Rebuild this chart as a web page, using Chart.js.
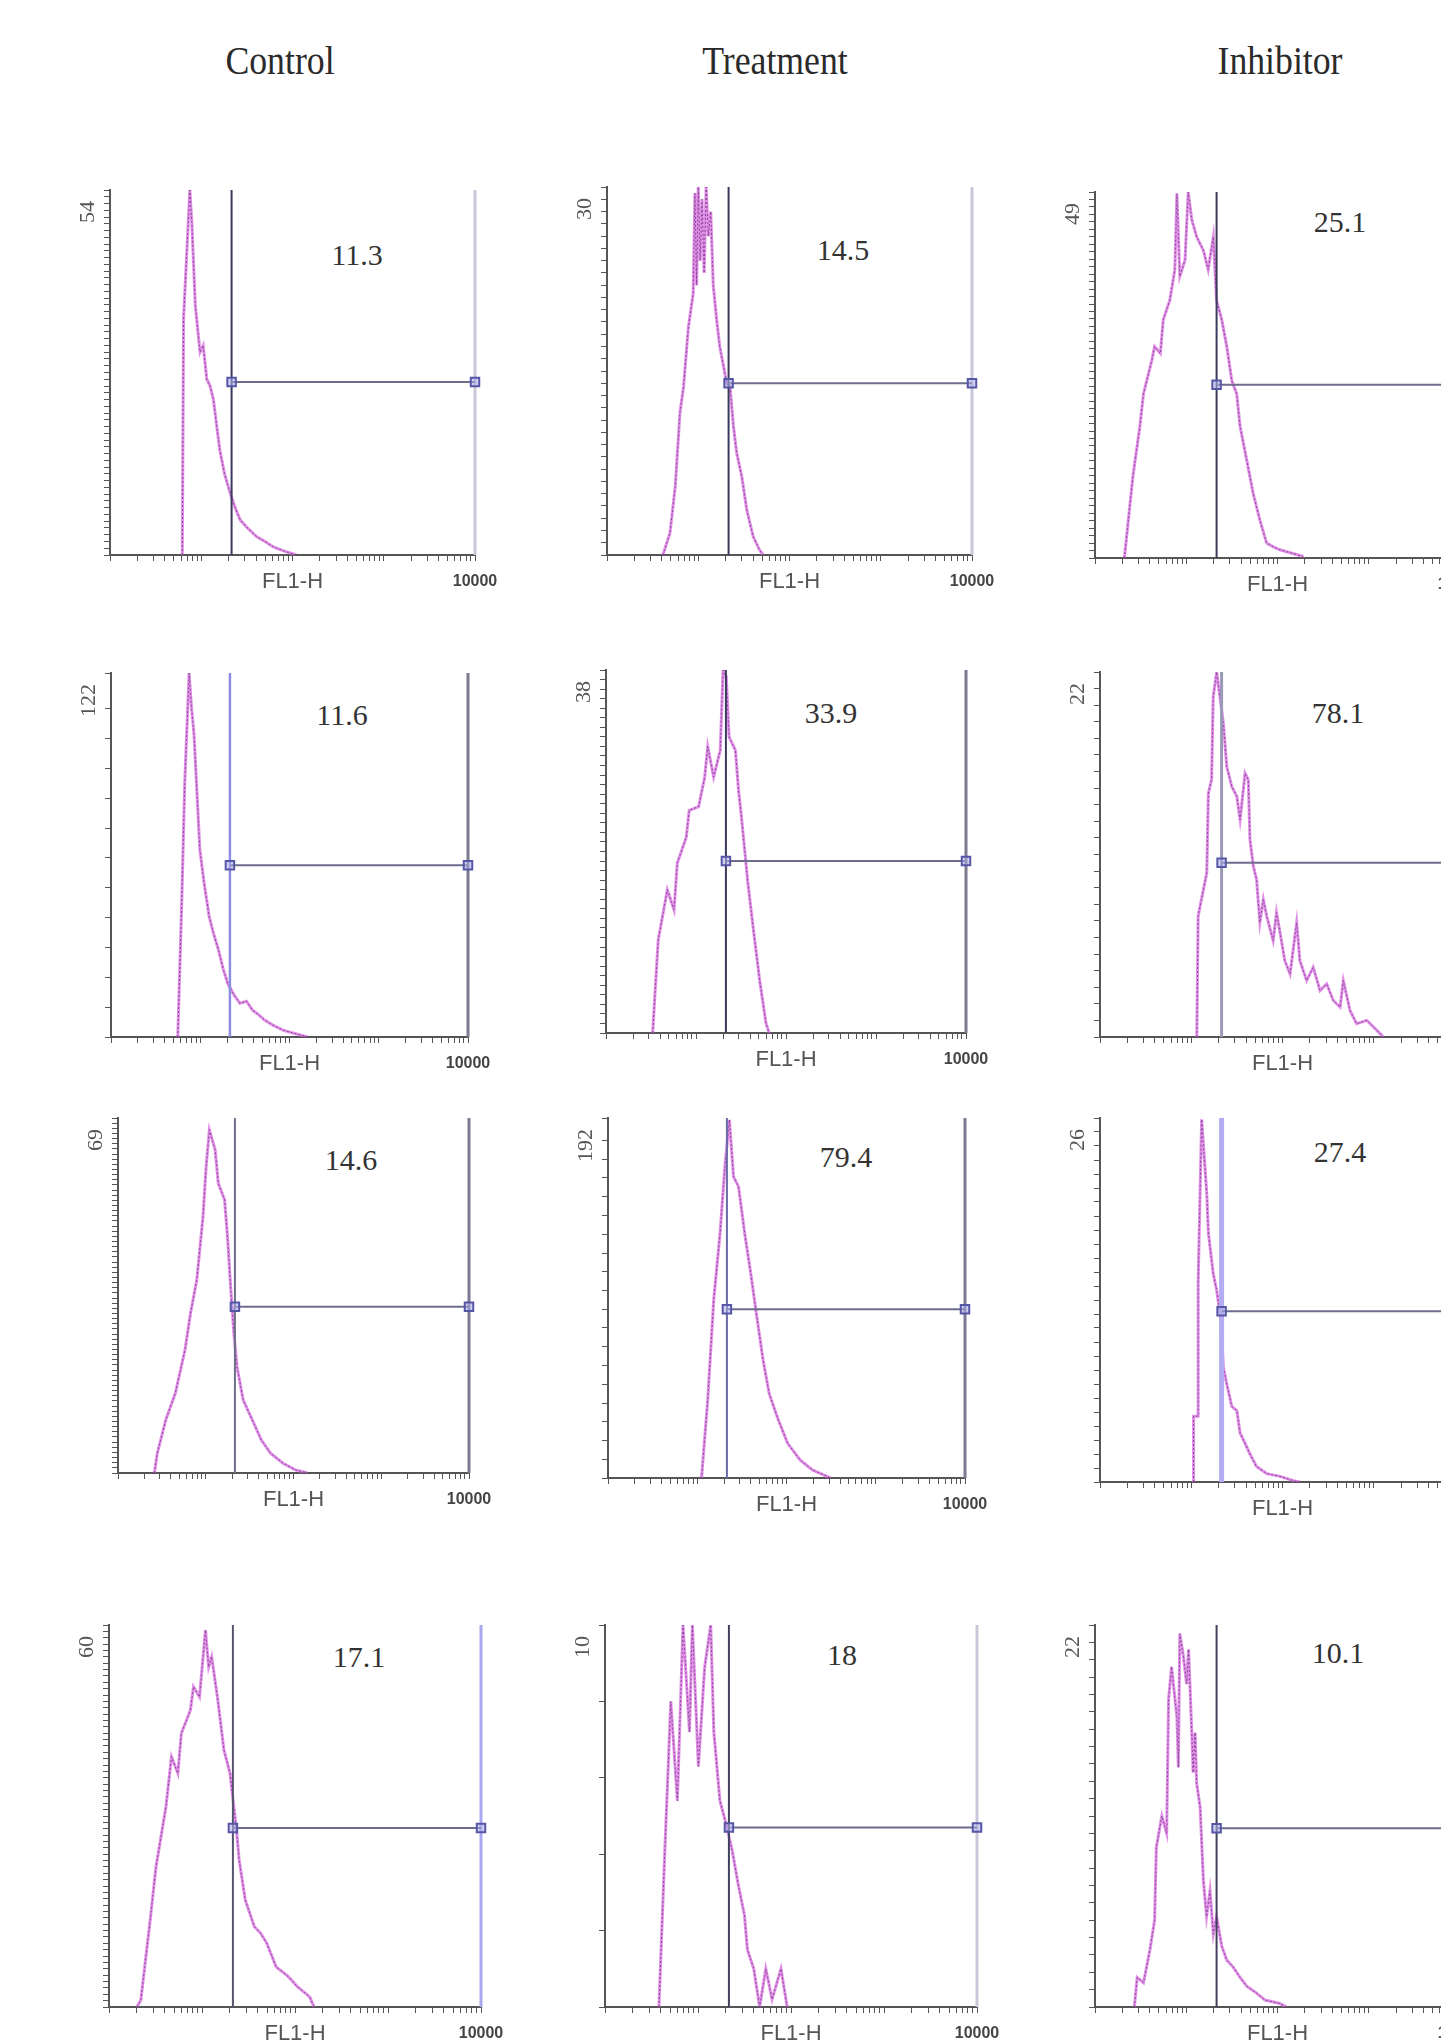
<!DOCTYPE html>
<html>
<head>
<meta charset="utf-8">
<script src="https://cdn.jsdelivr.net/npm/chart.js@4.4.0/dist/chart.umd.min.js"></script>
<style>
  html, body { margin: 0; padding: 0; background: #fff; overflow: hidden; }
  body { width: 1441px; height: 2044px; position: relative; }
  canvas { position: absolute; }
  .head {
    position: absolute; white-space: nowrap; color: #2a2a2a;
    font-family: 'Liberation Serif', serif; font-size: 38px;
    transform: translate(-50%, -50%) scaleX(0.94) scaleY(1.08);
  }
  .pct {
    position: absolute; white-space: nowrap; color: #333;
    font-family: 'Liberation Serif', serif; font-size: 30px;
    transform: translate(-50%, -50%);
  }
</style>
</head>
<body>
<script>
// column headers and gate percentages
const groups = ['Control', 'Treatment', 'Inhibitor'];
const percentages = ['11.3', '14.5', '25.1', '11.6', '33.9', '78.1', '14.6', '79.4', '27.4', '17.1', '18', '10.1'];

// y axis: top value written on the axis, tick step
const yMaxLabels = [54, 30, 49, 122, 38, 22, 69, 192, 26, 60, 10, 22];
const yTickSteps = [1, 1, 1, 10, 1, 1, 1, 10, 1, 1, 2, 1];

// x axis (log, FL1-H)
const xTitle = 'FL1-H';
const xEndLabel = '10000';
const xTickValues = [1, 2, 3, 4, 5, 6, 7, 8, 9, 10, 20, 30, 40, 50, 60, 70, 80, 90,
  100, 200, 300, 400, 500, 600, 700, 800, 900, 1000, 2000, 3000, 4000, 5000, 6000, 7000, 8000, 9000, 10000];

// marker gate: left edge in FL1-H, height of the bar in counts
const gateValue = 21.5;
const markerCounts = [25.6, 14, 23.2, 57.6, 18, 10.5, 32.3, 90, 12.2, 28.1, 4.7, 10.3];

// histograms (FL1-H, counts), row by row
const ctrl1X = [6.2, 6.4, 6.9, 7.5, 7.9, 8.3, 8.6, 9.2, 9.7, 10.5, 11.5, 12.5, 13.6, 14.8, 16, 18, 20.7, 23.5, 26.7, 32, 40.6, 50, 61.8, 80, 111];
const ctrl1Y = [0, 35, 44, 54, 49, 42, 37, 33, 30, 31, 26, 25, 23, 19, 15.5, 12, 9.2, 7, 5.2, 4, 2.7, 2, 1.2, 0.6, 0];
const treat1X = [4.1, 4.9, 5.6, 6.3, 6.9, 7.8, 8.8, 9.2, 9.6, 10.0, 10.5, 11.0, 11.6, 12.2, 12.9, 13.7, 14.6, 15.9, 17.2, 18.9, 20.5, 22.3, 24.3, 26.4, 30, 34, 40, 47, 51.5];
const treat1Y = [0, 1.8, 5.6, 11.6, 13.7, 18.6, 21.3, 29.5, 22, 30, 24, 29, 23, 30, 26, 28, 22, 19.2, 17, 15.4, 14, 13.7, 10.5, 8.3, 6.4, 3.7, 1.5, 0.4, 0];
const inhib1X = [2.1, 2.6, 3.1, 3.4, 4.2, 4.5, 5.2, 5.6, 6.6, 7.5, 7.9, 8.5, 9.7, 10.5, 11.5, 13, 15.4, 17.4, 19.8, 21.5, 24.5, 27.8, 31.6, 35.7, 38.9, 46, 54, 64, 76, 90, 106, 148, 192];
const inhib1Y = [0, 10.9, 17.6, 22, 26.5, 28.3, 27.4, 31.9, 34.5, 38.6, 48.8, 37.7, 39.9, 49, 45.3, 43, 41.2, 38.6, 43, 34.5, 31.9, 28.3, 23.7, 22, 17.6, 13.1, 8.7, 5.1, 2, 1.5, 1.1, 0.6, 0.2];

const ctrl2X = [5.6, 6.2, 6.7, 7.5, 8.0, 8.5, 9.9, 11, 12.6, 14, 16, 18, 20.3, 24, 27.8, 33, 38.5, 45, 52.5, 65, 84.5, 120, 160];
const ctrl2Y = [0, 45, 85, 122, 110, 101.8, 62.7, 52, 40.3, 35, 29.2, 23, 18, 14, 11.3, 12, 9, 7.5, 5.7, 4, 2.3, 1, 0];
const treat2X = [3.3, 3.8, 4.8, 5.7, 6.2, 7.8, 8.4, 10.7, 12.5, 13.5, 15.7, 18.6, 20, 21.7, 23.3, 27.4, 29.7, 32, 34.7, 37.7, 44, 51.5, 60, 65];
const treat2Y = [0, 9.7, 15, 12.9, 17.8, 20.5, 23.3, 23.7, 26.8, 30, 26.8, 29.6, 38, 37.3, 31, 29.6, 25.4, 22.6, 19.2, 15.7, 10.4, 5.2, 1, 0];
const inhib2X = [11.5, 11.9, 14.8, 15.4, 16.7, 17.4, 19, 22.5, 24.5, 27.8, 31.6, 34.3, 38.9, 42.2, 44, 47.9, 52, 56.5, 61.6, 67,
  79, 86, 94, 106, 121, 143, 155, 184, 217, 258, 305, 360, 428, 464, 549, 649, 840, 993, 1175, 1274];
const inhib2Y = [0, 7.3, 9.9, 14.7, 15.5, 20.5, 22, 18.9, 16.3, 15.1, 14.5, 13.1, 15.9, 15.5, 11.9, 10.3, 9.5, 6.9, 8.3, 7.3,
  5.8, 7.5, 6.3, 4.6, 3.8, 6.9, 4.6, 3.4, 4.2, 2.8, 3.2, 2.2, 1.8, 3.4, 1.6, 0.8, 1, 0.6, 0.2, 0];

const ctrl3X = [2.6, 2.8, 3.5, 4.5, 5.8, 6.7, 7.9, 9.3, 10.1, 11, 12.8, 13.9, 16.4, 17.8, 19.2, 20.9, 22.7, 26.7, 34, 43, 55, 76, 105, 145];
const ctrl3Y = [0, 3.8, 10.3, 15.5, 23.9, 31, 37.5, 49.8, 59.5, 66.7, 62.8, 56.3, 53.1, 45.3, 36.2, 27.2, 20.7, 14.2, 10.3, 6.4, 3.8, 1.9, 0.6, 0];
const treat3X = [10.8, 11.2, 13.1, 15.3, 18, 20.4, 22.9, 25.5, 29, 34, 39.8, 46.5, 54.6, 64, 81, 103, 142, 195, 313];
const treat3Y = [0, 0.7, 41.6, 95, 130.5, 166, 191, 160.7, 155.4, 130.5, 109, 86, 63, 45, 31, 18.5, 9.6, 4.3, 0];
const inhib3X = [10.6, 10.6, 11.9, 11.9, 13, 14.8, 15.4, 17.4, 19, 20.7, 21.5, 22.5, 24.5, 27.8, 31.6, 34.3, 40.6, 44, 52, 67, 94, 131, 155];
const inhib3Y = [0, 4.7, 4.7, 14.2, 25.9, 20.6, 17.8, 14.9, 13.7, 12, 10.6, 8.2, 7, 5.4, 5.1, 3.5, 2.5, 2, 1.1, 0.6, 0.4, 0.1, 0];

const ctrl4X = [2.0, 2.2, 2.8, 3.2, 4.1, 4.7, 5.5, 6, 7.5, 8.1, 9.4, 10.9, 11.8, 12.7, 14.8, 17.2, 20, 23.3, 25.1, 29.2, 36.6, 42.7, 49.8, 62.7, 84.3, 106, 144, 160];
const ctrl4Y = [0, 1.1, 14.2, 22, 31.5, 39.3, 36.7, 43, 46.6, 50.3, 48.7, 59.2, 53.4, 55, 48.2, 40.4, 36.7, 28.3, 23.1, 16.8, 12.6, 11.6, 10, 6.3, 4.8, 3.2, 1.6, 0];
const treat4X = [3.8, 4.4, 5.1, 6, 6.9, 8.1, 8.7, 10.1, 11.8, 13.7, 14.8, 17.2, 20, 23.3, 27.1, 31.6, 34, 39.8, 46, 53.6, 62.6, 78, 91];
const treat4Y = [0, 4.1, 8, 5.4, 10, 7.2, 10, 6.3, 8.9, 10, 7.2, 5.4, 4.8, 4.1, 3.2, 2.4, 1.5, 1, 0, 1, 0.2, 1, 0];
const inhib4X = [2.7, 2.9, 3.4, 4, 4.5, 4.7, 5.4, 6.1, 6.4, 6.9, 7.9, 8.2, 8.5, 9.3, 10.1, 10.6, 11.5, 11.9, 12.5, 13,
  14.2, 15.4, 16.7, 18.2, 19.8, 21.5, 24.5, 27.8, 32.7, 38.9, 46, 59, 73, 106, 125];
const inhib4Y = [0, 1.7, 1.4, 3.3, 5, 9.2, 11, 10, 17.7, 19.6, 16.7, 13.8, 21.5, 20.2, 18.6, 20.6, 15.8, 13.5, 15.8, 12.9,
  11.5, 7.3, 5.2, 6.7, 4.2, 5.2, 3.5, 2.7, 2.3, 1.7, 1.2, 0.8, 0.4, 0.2, 0];

const histX = [ctrl1X, treat1X, inhib1X, ctrl2X, treat2X, inhib2X, ctrl3X, treat3X, inhib3X, ctrl4X, treat4X, inhib4X];
const histY = [ctrl1Y, treat1Y, inhib1Y, ctrl2Y, treat2Y, inhib2Y, ctrl3Y, treat3Y, inhib3Y, ctrl4Y, treat4Y, inhib4Y];

// layout: plot area of each panel [left, top, width, height]
const panelBoxes = [
  [110, 190, 365, 365], [607, 187, 365, 368], [1095, 192, 365, 366],
  [111, 673, 357, 364], [606, 670, 360, 363], [1100, 672, 365, 365],
  [118, 1118, 351, 355], [608, 1118, 357, 360], [1100, 1118, 365, 364],
  [109, 1625, 372, 382], [605, 1625, 372, 382], [1095, 1625, 365, 382]
];
const headPos = [[280, 60], [775, 60], [1280, 60]];
const pctPos = [
  [357, 255], [843, 250], [1340, 222],
  [342, 715], [831, 713], [1338, 713],
  [351, 1160], [846, 1157], [1340, 1152],
  [359, 1657], [842, 1655], [1338, 1653]
];
const gateColors = ['#3a3a5e', '#3a3a5e', '#3a3a5e', '#8c8ce0', '#3a3a5e', '#9a9ab8',
  '#6e6e86', '#6a6aa8', '#b4acf2', '#55556e', '#404060', '#404060'];
const gateWidths = [2, 2, 2, 2.5, 2, 3, 2, 2, 5, 2, 2, 2];
const rightColors = ['#c8c8d8', '#c8c8d8', '#c8c8d8', '#7a7a90', '#7a7a90', '#c8c8d8',
  '#7a7a90', '#7a7a90', '#c8c8d8', '#a8a8f0', '#c8c8d8', '#c8c8d8'];

Chart.defaults.font.family = "'Liberation Sans', sans-serif";

groups.forEach((g, i) => {
  const d = document.createElement('div');
  d.className = 'head';
  d.textContent = g;
  d.style.left = headPos[i][0] + 'px';
  d.style.top = headPos[i][1] + 'px';
  document.body.appendChild(d);
});

percentages.forEach((p, i) => {
  const d = document.createElement('div');
  d.className = 'pct';
  d.textContent = p;
  d.style.left = pctPos[i][0] + 'px';
  d.style.top = pctPos[i][1] + 'px';
  document.body.appendChild(d);
});

function buildPanel(i) {
  const [left, top, w, h] = panelBoxes[i];
  const padL = 4, padT = 8, padR = 36, padB = 4, yW = 40, xH = 44;
  const canvas = document.createElement('canvas');
  canvas.width = padL + yW + w + padR;
  canvas.height = padT + h + xH + padB;
  canvas.style.left = (left - padL - yW) + 'px';
  canvas.style.top = (top - padT) + 'px';
  document.body.appendChild(canvas);

  const ymax = yMaxLabels[i];
  const mark = markerCounts[i];
  const pts = histX[i].map((x, k) => ({ x: x, y: histY[i][k] }));

  new Chart(canvas, {
    type: 'scatter',
    data: {
      datasets: [
        {
          data: [{ x: gateValue, y: mark }, { x: 10000, y: mark }],
          showLine: true, borderColor: '#6c6c8e', borderWidth: 2,
          pointStyle: 'rect', pointRadius: 6, pointBorderWidth: 2,
          pointBorderColor: '#5656a6', pointBackgroundColor: 'rgba(175,175,235,0.55)',
          clip: 10
        },
        {
          data: [{ x: gateValue, y: 0 }, { x: gateValue, y: ymax }],
          showLine: true, borderColor: gateColors[i], borderWidth: gateWidths[i], pointRadius: 0
        },
        {
          data: [{ x: 10000, y: 0 }, { x: 10000, y: ymax }],
          showLine: true, borderColor: rightColors[i], borderWidth: 3, pointRadius: 0, clip: 4
        },
        {
          data: pts, showLine: true, borderColor: 'rgba(100,50,120,0.75)', borderWidth: 1,
          borderDash: [2, 2], pointRadius: 0
        },
        {
          data: pts, showLine: true, borderColor: 'rgba(214,96,222,0.7)', borderWidth: 3, pointRadius: 0
        }
      ]
    },
    options: {
      responsive: false,
      animation: false,
      events: [],
      layout: { padding: { left: padL, top: padT, right: padR, bottom: padB } },
      plugins: { legend: { display: false }, tooltip: { enabled: false } },
      scales: {
        x: {
          type: 'logarithmic', min: 1, max: 10000,
          afterBuildTicks: s => { s.ticks = xTickValues.map(v => ({ value: v })); },
          afterFit: s => { s.height = xH; },
          ticks: {
            autoSkip: false, maxRotation: 0, minRotation: 0, padding: 11,
            font: { size: 16, weight: 'bold' }, color: '#444',
            callback: v => (v === 10000 ? xEndLabel : '')
          },
          grid: { drawOnChartArea: false, drawTicks: true, tickLength: 6, color: '#555' },
          border: { display: true, color: '#555', width: 2 },
          title: {
            display: true, text: xTitle, color: '#555',
            font: { size: 22 }, padding: { top: 0, bottom: 4 }
          }
        },
        y: {
          type: 'linear', min: 0, max: ymax,
          afterFit: s => { s.width = yW; },
          ticks: { display: false, stepSize: yTickSteps[i] },
          grid: { drawOnChartArea: false, drawTicks: true, tickLength: 6, color: '#555' },
          border: { display: true, color: '#555', width: 2 },
          title: {
            display: true, text: String(ymax) + '  ', align: 'end', color: '#555',
            font: { family: "'Liberation Serif', serif", size: 22 },
            padding: { top: 5, bottom: 0 }
          }
        }
      }
    }
  });
}

panelBoxes.forEach((b, i) => buildPanel(i));
</script>
</body>
</html>
